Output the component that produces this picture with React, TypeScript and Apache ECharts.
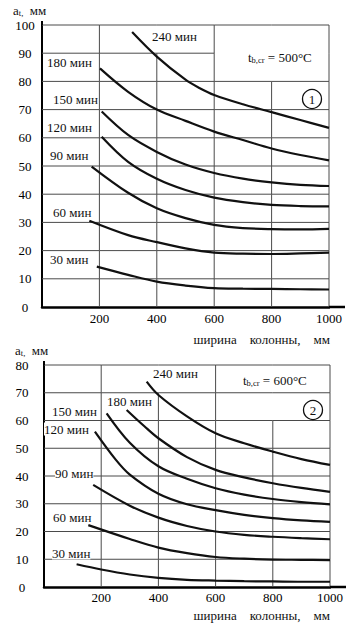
import React, { useEffect, useRef } from 'react';
import * as echarts from 'echarts';

const FONT = '"Liberation Serif", "DejaVu Serif", serif';

// Chart 1: t_b,cr = 500°C  — [column width mm, a_t mm]
const t500_30: [number, number][] = [[191, 14.3], [300, 11.4], [400, 9.0], [500, 7.6], [600, 6.7], [700, 6.5], [800, 6.4], [900, 6.3], [1000, 6.2]];
const t500_60: [number, number][] = [[165, 30.6], [300, 25.5], [400, 23.0], [500, 20.8], [600, 19.3], [700, 18.9], [800, 18.8], [900, 19.0], [1000, 19.3]];
const t500_90: [number, number][] = [[173, 49.8], [300, 40.5], [400, 35.0], [500, 31.5], [600, 29.1], [700, 28.0], [800, 27.6], [900, 27.5], [1000, 27.7]];
const t500_120: [number, number][] = [[208, 60.4], [300, 51.5], [400, 45.5], [500, 41.5], [600, 38.8], [700, 37.2], [800, 36.2], [900, 35.8], [1000, 35.7]];
const t500_150: [number, number][] = [[208, 69.3], [300, 61.0], [400, 55.0], [500, 50.5], [600, 47.5], [700, 45.5], [800, 44.2], [900, 43.3], [1000, 42.9]];
const t500_180: [number, number][] = [[202, 84.6], [300, 76.3], [400, 70.0], [500, 66.0], [600, 62.2], [700, 59.2], [800, 56.2], [900, 53.9], [1000, 52.0]];
const t500_240: [number, number][] = [[314, 97.5], [400, 88.8], [500, 80.6], [550, 77.6], [600, 75.2], [700, 71.9], [800, 69.1], [900, 66.3], [1000, 63.5]];

// Chart 2: t_b,cr = 600°C
const t600_30: [number, number][] = [[114, 8.2], [200, 6.3], [300, 4.5], [400, 3.3], [500, 2.6], [600, 2.3], [700, 2.1], [800, 2.0], [900, 1.9], [1000, 1.9]];
const t600_60: [number, number][] = [[155, 22.3], [300, 17.3], [400, 14.2], [500, 12.2], [600, 10.8], [700, 10.2], [800, 9.9], [900, 9.8], [1000, 9.7]];
const t600_90: [number, number][] = [[172, 36.8], [300, 29.3], [400, 25.0], [500, 22.0], [600, 20.0], [700, 18.8], [800, 18.1], [900, 17.6], [1000, 17.2]];
const t600_120: [number, number][] = [[178, 56.0], [250, 46.0], [300, 40.5], [400, 33.6], [500, 29.8], [600, 27.7], [700, 26.0], [800, 24.8], [900, 24.0], [1000, 23.5]];
const t600_150: [number, number][] = [[219, 62.6], [300, 52.0], [400, 43.5], [500, 39.0], [600, 35.6], [700, 33.3], [800, 31.7], [900, 30.6], [1000, 29.8]];
const t600_180: [number, number][] = [[289, 63.8], [350, 58.0], [400, 53.6], [500, 46.8], [600, 42.2], [700, 39.5], [800, 37.4], [900, 35.7], [1000, 34.3]];
const t600_240: [number, number][] = [[359, 74.0], [400, 69.2], [500, 61.5], [600, 55.4], [700, 51.8], [800, 48.8], [900, 46.1], [1000, 44.0]];

const curves500 = [t500_30, t500_60, t500_90, t500_120, t500_150, t500_180, t500_240];
const curves600 = [t600_30, t600_60, t600_90, t600_120, t600_150, t600_180, t600_240];
const curveNames = ['30 мин', '60 мин', '90 мин', '120 мин', '150 мин', '180 мин', '240 мин'];
const yMax = [100, 80];
const xTicks = [200, 400, 600, 800, 1000];
const tempLabels = ['= 500°C', '= 600°C'];
const chartNumbers = ['1', '2'];
const xName = 'ширина    колонны,    мм';
const yName = 'a';

export default function App() {
  const ref = useRef<HTMLDivElement>(null);
  useEffect(() => {
    if (!ref.current) return;
    const chart = echarts.init(ref.current, undefined, { renderer: 'svg' });
    const grids = [
      { left: 42, top: 25, width: 287, height: 282 },
      { left: 44, top: 365, width: 286, height: 222 },
    ];
    const series: any[] = [];
    [curves500, curves600].forEach((set, gi) => {
      set.forEach((d, i) => {
        series.push({
          type: 'line', name: curveNames[i] + ' ' + gi, xAxisIndex: gi, yAxisIndex: gi,
          data: d, smooth: 0.35, symbol: 'none', z: 20,
          lineStyle: { color: '#111', width: 2.2 },
        });
      });
    });
    chart.setOption({
      animation: false,
      grid: grids,
      xAxis: [0, 1].map((i) => ({
        gridIndex: i, type: 'value', min: 0, max: 1000, interval: 200,
        axisLine: { show: true, onZero: false, lineStyle: { color: '#000', width: 2.5 } },
        axisTick: { show: false },
        splitLine: { show: false },
        axisLabel: { showMinLabel: false, color: '#000', fontSize: 13, fontFamily: FONT, margin: i ? 4 : 5, formatter: (v: number) => String(v) },
      })),
      yAxis: [0, 1].map((i) => ({
        gridIndex: i, type: 'value', min: 0, max: yMax[i], interval: 10,
        axisLine: { show: true, lineStyle: { color: '#000', width: 2 } },
        axisTick: { show: false },
        splitLine: { show: false },
        axisLabel: { color: '#000', fontSize: 13, fontFamily: FONT, align: 'center', margin: i ? 22 : 17, formatter: (v: number) => String(v) },
      })),
      series,
    });

    const p = (g: number, x: number, y: number) => chart.convertToPixel({ gridIndex: g } as any, [x, y]) as number[];
    const g: any[] = [];

    // grid lines, drawn cell by cell; some segments are blank (behind notes)
    const hiddenV = [
      { gi: 0, x: 400, y1: 90, y2: 100 },
      { gi: 0, x: 800, y1: 80, y2: 100 },
      { gi: 1, x: 400, y1: 70, y2: 80 },
      { gi: 1, x: 800, y1: 60, y2: 80 },
    ];
    const hiddenH = [{ gi: 0, y: 90, x1: 600, x2: 1000 }];
    const gridStroke = { stroke: '#4a4a4a', lineWidth: 1 };
    [0, 1].forEach((gi) => {
      xTicks.forEach((xv) => {
        for (let y = 0; y < yMax[gi]; y += 10) {
          if (hiddenV.some((h) => h.gi === gi && h.x === xv && y >= h.y1 && y < h.y2)) continue;
          const a = p(gi, xv, y), b = p(gi, xv, y + 10);
          g.push({ type: 'line', z: 1, silent: true, shape: { x1: a[0], y1: a[1], x2: b[0], y2: b[1] }, style: gridStroke });
        }
      });
      for (let yv = 10; yv <= yMax[gi]; yv += 10) {
        for (let x = 0; x < 1000; x += 200) {
          if (hiddenH.some((h) => h.gi === gi && h.y === yv && x >= h.x1 && x < h.x2)) continue;
          const a = p(gi, x, yv), b = p(gi, x + 200, yv);
          g.push({ type: 'line', z: 1, silent: true, shape: { x1: a[0], y1: a[1], x2: b[0], y2: b[1] }, style: gridStroke });
        }
      }
      // axis extensions
      const top = p(gi, 0, yMax[gi]);
      g.push({ type: 'line', z: 6, shape: { x1: top[0], y1: top[1], x2: top[0], y2: top[1] - 4 }, style: { stroke: '#000', lineWidth: 2 } });
      const end = p(gi, 1000, 0);
      g.push({ type: 'line', z: 6, shape: { x1: end[0], y1: end[1], x2: end[0] + 16, y2: end[1] }, style: { stroke: '#000', lineWidth: 2.5 } });
    });

    const txt = (x: number, y: number, text: string, extra: any = {}) =>
      g.push({
        type: 'text', z: 10, x, y,
        style: { text, fill: '#111', font: `13px ${FONT}`, verticalAlign: 'middle', backgroundColor: '#fff', ...extra },
      });
    const rich = {
      m: { fontSize: 13, fontFamily: FONT, lineHeight: 14, fill: '#111' },
      s: { fontSize: 8.5, fontFamily: FONT, lineHeight: 7, verticalAlign: 'bottom', fill: '#111' },
    };

    const labelPos = [
      [[50, 259], [53, 212], [50, 155], [47, 127], [53, 99], [47, 62], [152, 36]],
      [[52, 553], [53, 517], [55, 473], [44, 429], [52, 411], [107, 401], [153, 373]],
    ];
    labelPos.forEach((set) => set.forEach((pos, i) => txt(pos[0], pos[1], curveNames[i])));

    // y-axis titles
    txt(13, 10, `{m|${yName}}{s|t,}{m|  мм}`, { rich, backgroundColor: 'transparent' });
    txt(15, 350, `{m|${yName}}{s|t,}{m|  мм}`, { rich, backgroundColor: 'transparent' });
    // x-axis names
    txt(330, 339, xName, { align: 'right', backgroundColor: 'transparent' });
    txt(330, 615, xName, { align: 'right', backgroundColor: 'transparent' });
    // temperature notes
    const tempPos = [[248, 57], [243, 380]];
    tempPos.forEach((pos, gi) => txt(pos[0], pos[1], `{m|t}{s|b,cr}{m| ${tempLabels[gi]}}`, { rich, backgroundColor: 'transparent' }));
    // circled chart numbers
    const circPos = [[312, 99], [313, 410]];
    circPos.forEach((pos, gi) => {
      g.push({ type: 'circle', z: 8, shape: { cx: pos[0], cy: pos[1], r: 9.5 }, style: { fill: '#fff', stroke: '#111', lineWidth: 1.3 } });
      txt(pos[0], pos[1], chartNumbers[gi], { align: 'center', backgroundColor: 'transparent' });
    });

    chart.setOption({ graphic: { elements: g } });
    return () => chart.dispose();
  }, []);
  return <div ref={ref} style={{ position: 'fixed', left: 0, top: 0, width: 356, height: 632, background: '#fff' }} />;
}
